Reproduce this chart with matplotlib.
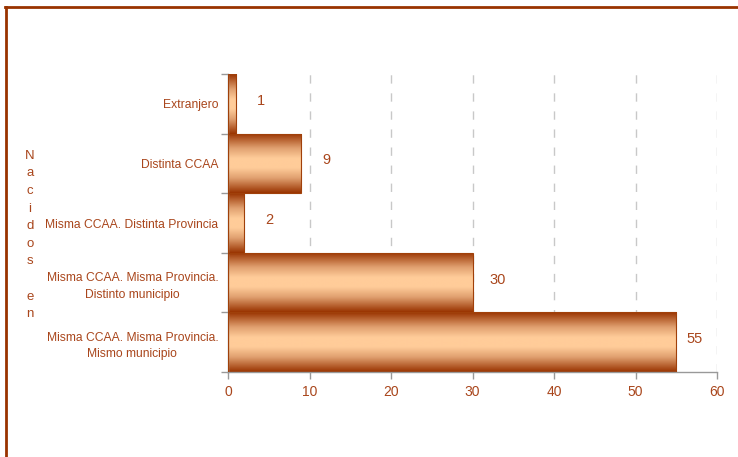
import numpy as np
import matplotlib
matplotlib.use("Agg")
import matplotlib.pyplot as plt
from matplotlib.colors import LinearSegmentedColormap
from matplotlib.lines import Line2D

categories = ["Misma CCAA. Misma Provincia.\nMismo municipio",
              "Misma CCAA. Misma Provincia.\nDistinto municipio",
              "Misma CCAA. Distinta Provincia",
              "Distinta CCAA",
              "Extranjero"]
values = [55, 30, 2, 9, 1]
xticks = [0, 10, 20, 30, 40, 50, 60]

plt.rcParams['font.family'] = ['Liberation Sans', 'DejaVu Sans']
txt = '#A9461C'
dark = '#993300'
light = '#FFCC99'

fig = plt.figure(figsize=(7.38, 4.57), dpi=100)
ax = fig.add_axes([228/738, 1-372/457, (717-228)/738, (372-74)/457])

cmap = LinearSegmentedColormap.from_list('cyl', [(0, dark), (0.25, '#E0A070'), (0.42, light), (0.58, light), (0.75, '#E0A070'), (1, dark)])
grad = np.linspace(0, 1, 256).reshape(-1, 1)

y = np.arange(len(categories))
bars = ax.barh(y, values, height=1.0, color='none', edgecolor='#A0400A', linewidth=0.8, zorder=3)
for b in bars:
    x0, y0 = b.get_x(), b.get_y()
    w, h = b.get_width(), b.get_height()
    im = ax.imshow(grad, cmap=cmap, aspect='auto', extent=[x0, x0 + w, y0, y0 + h],
                   origin='lower', zorder=2, interpolation='bilinear')
    im.set_clip_path(b)

for yi, v in zip(y, values):
    ax.text(min(v + 3.1, 57.2), yi + 0.05, str(v), va='center', ha='center', color=txt, fontsize=10.5)

ax.set_xlim(0, 60)
ax.set_ylim(-0.5, len(categories) - 0.5)
ax.set_xticks(xticks)
ax.set_xticklabels([str(t) for t in xticks], color=txt, fontsize=10)
ax.set_yticks(y)
ax.set_yticklabels(categories, color=txt, fontsize=8.7, linespacing=1.5, multialignment='center')
ax.set_yticks(np.arange(-0.5, len(categories), 1.0), minor=True)
ax.tick_params(axis='y', which='major', length=0, pad=7)
ax.tick_params(axis='y', which='minor', length=5, color='#999999', width=1)
ax.tick_params(axis='x', length=5, color='#999999', width=1, pad=4)
for t in xticks[1:]:
    ax.axvline(t, color='#C8C8C8', linestyle=(0, (6, 7)), linewidth=1, zorder=1)
for s in ['top', 'right']:
    ax.spines[s].set_visible(False)
for s in ['left', 'bottom']:
    ax.spines[s].set_color('#999999')
    ax.spines[s].set_linewidth(1)
ax.set_facecolor('none')

fig.text(30/738, 1-235/457, "N\na\nc\ni\nd\no\ns\n\ne\nn", ha='center', va='center',
         color=txt, fontsize=9.5, linespacing=1.62)

fig.add_artist(Line2D([6/738, 6/738], [0, 1-7/457], transform=fig.transFigure, color=dark, linewidth=2))
fig.add_artist(Line2D([5/738, 1], [1-7/457, 1-7/457], transform=fig.transFigure, color=dark, linewidth=2))

fig.savefig('out.png', dpi=100)
